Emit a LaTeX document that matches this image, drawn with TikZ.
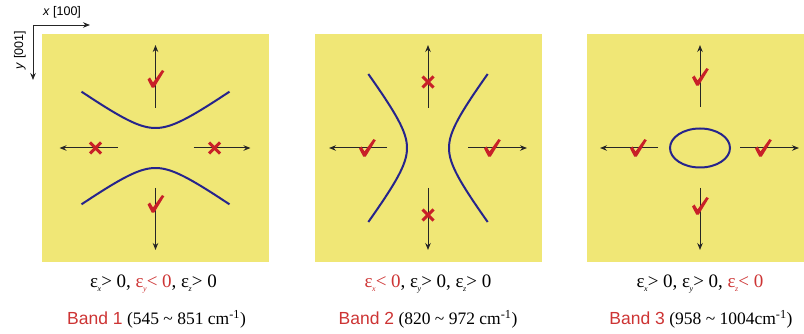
\documentclass[tikz,border=0pt]{standalone}
\usepackage{fontspec}
\setmainfont{Liberation Serif}
\newfontfamily\arialfont{Liberation Sans}
\usetikzlibrary{arrows.meta}

\definecolor{panelyellow}{RGB}{240,231,118}
\definecolor{markred}{RGB}{200,32,40}
\definecolor{curveblue}{RGB}{38,36,140}
\definecolor{labelred}{RGB}{205,52,52}

% epsilon with a lowered italic index
\newcommand{\epsof}[1]{ε\kern-0.5pt\raisebox{-0.55ex}{\footnotesize\itshape #1}}

\tikzset{
    panel/.style={fill=panelyellow, draw=none},
    dirarrow/.style={-{Stealth[length=7pt, width=5.5pt]}, line width=1pt, black!85},
    band/.style={draw=curveblue, line width=2pt},
    strain/.style={font=\fontsize{19}{22}\selectfont, inner sep=0pt},
    caption/.style={font=\fontsize{17.5}{21}\selectfont, inner sep=0pt},
    pics/okmark/.style={code={
        \fill[markred] (-8,0.5) -- (-5.5,-1.5) -- (-2.5,3.5) -- (6.5,-9) -- (8.8,-7.8) -- (-1.3,8.7) -- (-3.7,8.7) -- cycle;
    }},
    pics/nomark/.style={code={
        \draw[markred, line width=3pt] (-5.5,-5.5) -- (5.5,5.5) (-5.5,5.5) -- (5.5,-5.5);
    }},
}

\begin{document}
\begin{tikzpicture}[x=1pt, y=-1pt]

    \useasboundingbox (0,0) rectangle (804,334);

    % crystal axes
    \draw[dirarrow, line width=0.8pt] (33,25) -- (90,25);
    \draw[dirarrow, line width=0.8pt] (33,25) -- (33,80);
    \node[font=\arialfont\fontsize{12.5}{14}\selectfont] (xaxis) at (62,12) {\textit{x} [100]};
    \node[font=\arialfont\fontsize{12.5}{14}\selectfont, rotate=90] (yaxis) at (20,50) {\textit{y} [001]};

\begin{scope}[shift={(155.5,148)}]

    % panel for band 1
    \fill[panel] (-113.5,-114) rectangle (113.5,114);

    % open hyperbolas along y
    \draw[band] plot[domain=-74:74, samples=60] (\x, {-sqrt(400+0.507*\x*\x)});
    \draw[band] plot[domain=-74:74, samples=60] (\x, {sqrt(400+0.507*\x*\x)});

    % directions
    \draw[dirarrow] (0,-40) -- (0,-103);
    \draw[dirarrow] (0,40) -- (0,102);
    \draw[dirarrow] (-38,0) -- (-96,0);
    \draw[dirarrow] (38,0) -- (95,0);
    \pic at (0,-69) {okmark};
    \pic at (0,56) {okmark};
    \pic at (-60,0) {nomark};
    \pic at (59,0) {nomark};

    % strain and band
    \node[strain] (strain1) at (-2,136) {\epsof{x}> 0, \textcolor{labelred}{\epsof{y}< 0}, \epsof{z}> 0};
    \node[caption] (band1) at (1,171) {\textcolor{labelred}{\arialfont Band 1} (545 \textasciitilde\ 851 cm\textsuperscript{-1})};

\end{scope}

\begin{scope}[shift={(428,148)}]

    % panel for band 2
    \fill[panel] (-113.5,-114) rectangle (113.5,114);

    % open hyperbolas along x
    \draw[band] plot[domain=-74:74, samples=60] ({-sqrt(441+0.570*\x*\x)}, \x);
    \draw[band] plot[domain=-74:74, samples=60] ({sqrt(441+0.570*\x*\x)}, \x);

    % directions
    \draw[dirarrow] (0,-40) -- (0,-103);
    \draw[dirarrow] (0,40) -- (0,102);
    \draw[dirarrow] (-41,0) -- (-99,0);
    \draw[dirarrow] (40,0) -- (99,0);
    \pic at (0,-66) {nomark};
    \pic at (0,67) {nomark};
    \pic at (-61,0) {okmark};
    \pic at (64,0) {okmark};

    % strain and band
    \node[strain] (strain2) at (0,136) {\textcolor{labelred}{\epsof{x}< 0}, \epsof{y}> 0, \epsof{z}> 0};
    \node[caption] (band2) at (0,171) {\textcolor{labelred}{\arialfont Band 2} (820 \textasciitilde\ 972 cm\textsuperscript{-1})};

\end{scope}

\begin{scope}[shift={(700,148)}]

    % panel for band 3, cut by the right edge
    \fill[panel] (-113,-114) rectangle (104,114);

    % closed ellipse
    \draw[band] (0,0) ellipse[x radius=30, y radius=19.5];

    % directions
    \draw[dirarrow] (0,-41) -- (0,-103);
    \draw[dirarrow] (0,40) -- (0,102);
    \draw[dirarrow] (-42,0) -- (-100,0);
    \draw[dirarrow] (40,0) -- (99,0);
    \pic at (0,-71) {okmark};
    \pic at (0,58) {okmark};
    \pic at (-62,0) {okmark};
    \pic at (63,0) {okmark};

    % strain and band
    \node[strain] (strain3) at (0,136) {\epsof{x}> 0, \epsof{y}> 0, \textcolor{labelred}{\epsof{z}< 0}};
    \node[caption] (band3) at (1,171) {\textcolor{labelred}{\arialfont Band 3} (958 \textasciitilde\ 1004cm\textsuperscript{-1})};

\end{scope}
\end{tikzpicture}
\end{document}
